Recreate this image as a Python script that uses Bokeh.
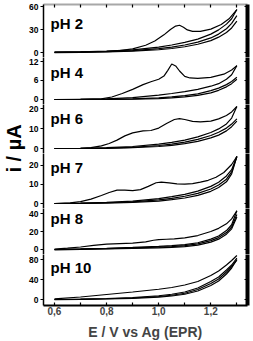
from math import pi
from bokeh.plotting import figure
from bokeh.layouts import column, row
from bokeh.models import Range1d, LinearAxis, FixedTicker, CustomJSTickFormatter, Label
from bokeh.embed import file_html
from bokeh.resources import INLINE

# ---------------- data ----------------
ph_labels = ["pH 2", "pH 4", "pH 6", "pH 7", "pH 8", "pH 10"]
label_y = [37.8, 8.4, 15.0, 19.1, 34.4, 64.0]
y_ticks = [[0, 30, 60], [0, 6, 12], [0, 10, 20], [0, 10, 20], [0, 20, 40], [0, 40, 80]]
y_ranges = [(-6.52, 62.61), (-1.579, 13.263), (-2.5, 22.0), (-2.63, 26.3), (-5.556, 45.556), (-12.0, 90.0)]
x_ticks = [0.6, 0.8, 1.0, 1.2]
x_minor = [0.7, 0.9, 1.1, 1.3]
top_ticks = [0.6, 0.7, 0.8, 0.9, 1.0, 1.1, 1.2, 1.3]

# potential grid for the smooth (later) scans
E_scan = [0.6, 0.7, 0.8, 0.9, 1.0, 1.05, 1.1, 1.15, 1.2, 1.23, 1.26, 1.28, 1.3]

# pH 2
E_ph2_first = [0.6, 0.7, 0.8, 0.85, 0.9, 0.95, 0.985, 1.02, 1.045, 1.065, 1.08, 1.095, 1.11, 1.13, 1.16, 1.2, 1.24, 1.27, 1.3]
I_ph2_first = [0.8, 1.0, 1.6, 2.6, 4.8, 9.5, 15.0, 23.0, 30.0, 34.5, 35.5, 33.0, 29.5, 27.5, 27.5, 30.5, 36.5, 44.0, 56.0]
I_ph2_a = [0.2, 0.8, 1.8, 3.5, 7.0, 9.8, 13.2, 17.5, 24.0, 29.5, 37.0, 44.0, 56.0]
I_ph2_b = [0.0, 0.5, 1.2, 2.5, 5.0, 7.0, 9.8, 13.5, 19.0, 24.0, 31.0, 38.0, 48.0]
I_ph2_c = [-0.3, 0.2, 0.8, 1.8, 3.6, 5.2, 7.5, 10.8, 15.5, 20.0, 26.0, 32.0, 41.0]

# pH 4
E_ph4_first = [0.6, 0.7, 0.78, 0.82, 0.86, 0.9, 0.94, 0.97, 1.0, 1.02, 1.035, 1.05, 1.065, 1.08, 1.1, 1.12, 1.15, 1.2, 1.25, 1.28, 1.3]
I_ph4_first = [0.0, 0.05, 0.2, 0.8, 1.9, 3.2, 4.7, 5.6, 6.4, 7.4, 9.2, 11.2, 10.6, 9.0, 7.3, 6.8, 6.7, 7.0, 8.0, 9.3, 10.7]
I_ph4_a = [0.0, 0.05, 0.2, 0.6, 1.4, 1.9, 2.5, 3.2, 4.2, 5.0, 6.4, 7.8, 10.7]
I_ph4_b = [0.0, 0.02, 0.05, 0.2, 0.5, 0.8, 1.2, 1.8, 2.8, 3.6, 4.7, 5.7, 7.0]
I_ph4_c = [0.0, 0.0, 0.02, 0.1, 0.3, 0.5, 0.8, 1.3, 2.1, 2.9, 4.0, 5.0, 6.4]

# pH 6
E_ph6_first = [0.6, 0.7, 0.74, 0.78, 0.81, 0.84, 0.87, 0.9, 0.94, 0.97, 1.0, 1.03, 1.06, 1.08, 1.1, 1.13, 1.16, 1.2, 1.23, 1.26, 1.28, 1.3]
I_ph6_first = [0.0, 0.1, 0.4, 1.3, 2.5, 4.2, 6.3, 7.8, 8.8, 9.0, 10.2, 12.5, 14.5, 14.9, 14.5, 13.6, 13.3, 13.7, 14.8, 16.5, 18.3, 21.0]
I_ph6_a = [0.0, 0.1, 0.4, 1.0, 2.2, 3.1, 4.2, 5.8, 8.0, 9.8, 12.3, 15.2, 21.0]
I_ph6_b = [0.0, 0.05, 0.2, 0.6, 1.5, 2.2, 3.2, 4.6, 6.5, 8.1, 10.2, 12.2, 14.8]
I_ph6_c = [0.0, 0.0, 0.1, 0.4, 1.0, 1.6, 2.4, 3.6, 5.3, 6.7, 8.8, 10.9, 13.7]

# pH 7
E_ph7_first = [0.6, 0.66, 0.7, 0.74, 0.78, 0.81, 0.84, 0.87, 0.9, 0.93, 0.96, 0.99, 1.01, 1.04, 1.07, 1.1, 1.13, 1.16, 1.19, 1.22, 1.25, 1.28, 1.3]
I_ph7_first = [0.0, 0.3, 1.0, 2.3, 4.2, 5.8, 7.0, 7.0, 6.8, 7.3, 9.0, 10.9, 11.2, 10.8, 10.3, 10.2, 10.5, 11.2, 12.2, 13.8, 16.3, 20.5, 24.7]
I_ph7_a = [0.0, 0.2, 0.6, 1.3, 2.6, 3.6, 4.8, 6.5, 9.0, 11.2, 14.5, 17.8, 24.7]
I_ph7_b = [0.0, 0.1, 0.4, 0.9, 1.9, 2.7, 3.8, 5.3, 7.6, 9.7, 12.8, 16.6, 24.7]
I_ph7_c = [0.0, 0.05, 0.2, 0.6, 1.3, 2.0, 2.9, 4.3, 6.4, 8.4, 11.4, 15.6, 24.7]

# pH 8
E_ph8_first = [0.6, 0.65, 0.7, 0.75, 0.8, 0.85, 0.9, 0.95, 0.98, 1.0, 1.03, 1.06, 1.1, 1.15, 1.2, 1.23, 1.26, 1.28, 1.3]
I_ph8_first = [0.5, 1.5, 2.8, 4.5, 6.0, 6.6, 7.0, 8.5, 10.3, 11.0, 11.4, 11.8, 13.0, 15.5, 20.0, 23.5, 28.5, 34.0, 43.0]
I_ph8_a = [0.0, 0.6, 1.4, 2.4, 3.5, 4.4, 5.5, 7.5, 11.5, 15.0, 21.0, 27.5, 43.0]
I_ph8_b = [0.0, 0.4, 1.0, 1.8, 2.6, 3.3, 4.3, 6.2, 9.8, 13.2, 18.8, 25.0, 39.0]
I_ph8_c = [-0.5, 0.2, 0.7, 1.2, 1.8, 2.4, 3.2, 4.9, 8.2, 11.5, 17.0, 23.0, 36.0]

# pH 10
I_ph10_first = [1.3, 5.0, 10.0, 15.0, 20.5, 24.0, 29.0, 36.0, 48.0, 57.0, 69.0, 78.0, 88.0]
I_ph10_a = [0.0, 0.8, 2.0, 4.0, 7.5, 10.5, 15.0, 23.0, 36.0, 45.0, 59.0, 69.0, 83.0]
I_ph10_b = [0.0, 0.5, 1.5, 3.0, 6.0, 8.5, 12.5, 20.0, 32.0, 41.0, 55.0, 66.0, 79.0]
I_ph10_c = [-0.5, 0.3, 1.0, 2.3, 4.8, 7.0, 10.5, 17.0, 28.0, 37.0, 51.0, 63.0, 80.0]

curves = [
    [(E_ph2_first, I_ph2_first), (E_scan, I_ph2_a), (E_scan, I_ph2_b), (E_scan, I_ph2_c)],
    [(E_ph4_first, I_ph4_first), (E_scan, I_ph4_a), (E_scan, I_ph4_b), (E_scan, I_ph4_c)],
    [(E_ph6_first, I_ph6_first), (E_scan, I_ph6_a), (E_scan, I_ph6_b), (E_scan, I_ph6_c)],
    [(E_ph7_first, I_ph7_first), (E_scan, I_ph7_a), (E_scan, I_ph7_b), (E_scan, I_ph7_c)],
    [(E_ph8_first, I_ph8_first), (E_scan, I_ph8_a), (E_scan, I_ph8_b), (E_scan, I_ph8_c)],
    [(E_scan, I_ph10_first), (E_scan, I_ph10_a), (E_scan, I_ph10_b), (E_scan, I_ph10_c)],
]

# ---------------- layout ----------------
FONT = "Liberation Sans"
frame_heights = [53, 47, 49, 55, 46, 51]
XR = Range1d(0.5578, 1.3408)
blank = CustomJSTickFormatter(code="return '';")

figs = []
n = len(ph_labels)
for k in range(n):
    first = k == 0
    last = k == n - 1
    p = figure(frame_width=204, frame_height=frame_heights[k],
               x_range=XR, y_range=Range1d(*y_ranges[k]),
               x_axis_type="linear" if last else None,
               output_backend="svg", toolbar_location=None,
               min_border_left=16, min_border_right=4,
               min_border_top=4 if first else 0,
               min_border_bottom=36 if last else 0)
    p.outline_line_color = None
    p.grid.visible = False
    p.background_fill_color = "white"
    p.border_fill_color = "white"

    for (ex, iy) in curves[k]:
        p.line(ex, iy, line_color="black", line_width=1.2)

    yax = p.yaxis[0]
    yax.ticker = FixedTicker(ticks=y_ticks[k], minor_ticks=[])
    yax.axis_line_width = 1.5
    yax.axis_line_color = "black"
    yax.major_tick_in = 0
    yax.major_tick_out = 3
    yax.major_tick_line_width = 1.2
    yax.minor_tick_line_color = None
    yax.major_label_standoff = 2
    yax.major_label_text_font = FONT
    yax.major_label_text_font_style = "bold"
    yax.major_label_text_font_size = "8.5px"
    yax.major_label_text_color = "black"

    rax = LinearAxis(ticker=FixedTicker(ticks=y_ticks[k], minor_ticks=[]),
                     formatter=blank,
                     axis_line_width=4, axis_line_color="black",
                     major_tick_in=3, major_tick_out=0, major_tick_line_width=1.2,
                     minor_tick_line_color=None, major_label_standoff=0)
    p.add_layout(rax, "right")

    if first:
        tax = LinearAxis(ticker=FixedTicker(ticks=top_ticks, minor_ticks=[]),
                         formatter=blank,
                         axis_line_width=2, axis_line_color="#a8a8a8",
                         major_tick_in=3, major_tick_out=0, major_tick_line_width=1.2,
                         major_tick_line_color="black",
                         minor_tick_line_color=None, major_label_standoff=0)
        p.add_layout(tax, "above")

    if last:
        xax = p.xaxis[0]
        xax.ticker = FixedTicker(ticks=x_ticks, minor_ticks=x_minor)
        xax.formatter = CustomJSTickFormatter(code="return tick.toFixed(1).replace('.', ',');")
        xax.axis_line_width = 2
        xax.major_tick_in = 3
        xax.major_tick_out = 0
        xax.minor_tick_in = 3
        xax.minor_tick_out = 0
        xax.major_tick_line_width = 1.2
        xax.minor_tick_line_width = 1.2
        xax.major_label_standoff = 1
        xax.major_label_text_font = FONT
        xax.major_label_text_font_style = "bold"
        xax.major_label_text_font_size = "10px"
        xax.axis_label = "E / V vs Ag (EPR)"
        xax.axis_label_text_font = FONT
        xax.axis_label_text_font_style = "bold"
        xax.axis_label_text_font_size = "14px"
        xax.axis_label_standoff = 6

    p.add_layout(Label(x=0.585, y=label_y[k], text=ph_labels[k],
                       text_font=FONT, text_font_style="bold",
                       text_font_size="15px", text_baseline="middle",
                       text_color="black"))
    figs.append(p)

# y-axis title in its own narrow strip
H = 305
yfig = figure(width=26, height=H, x_range=Range1d(0, 26), y_range=Range1d(0, H),
              x_axis_type=None, y_axis_type=None, output_backend="svg",
              toolbar_location=None, min_border=0)
yfig.outline_line_color = None
yfig.grid.visible = False
yfig.add_layout(Label(x=13, y=H - 148, text="i / \u00b5A", angle=pi / 2,
                      text_font=FONT, text_font_style="bold", text_font_size="20px",
                      text_align="center", text_baseline="middle", text_color="black"))

layout = row(yfig, column(*figs, spacing=0), spacing=0)

open("out.html", "w").write(file_html(layout, INLINE))
